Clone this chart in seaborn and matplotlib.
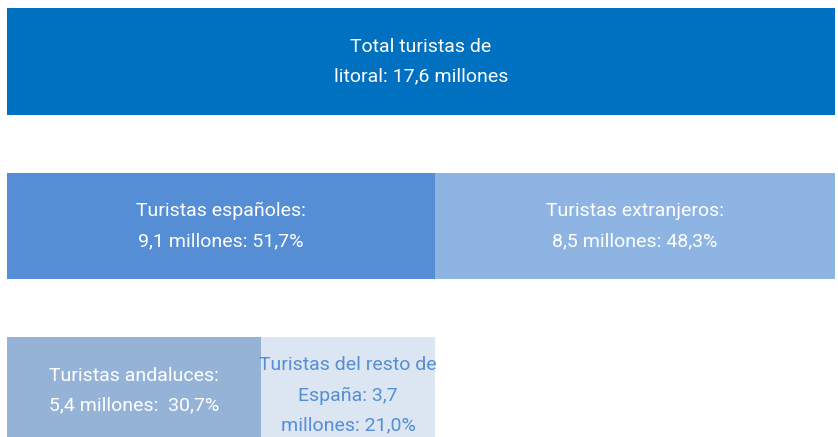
import matplotlib
matplotlib.use("Agg")
import matplotlib.pyplot as plt
import seaborn as sns
import pandas as pd

# Data (millions)
rows = ["total", "origen", "espanoles"]
total = 17.6
espanoles = 9.1
extranjeros = 8.5
andaluces = 5.4
resto = 3.7

labels_total = "Total turistas de\nlitoral: 17,6 millones"
label_esp = "Turistas españoles:\n9,1 millones: 51,7%"
label_ext = "Turistas extranjeros:\n8,5 millones: 48,3%"
label_and = "Turistas andaluces:\n5,4 millones:  30,7%"
label_res = "Turistas del resto de\nEspaña: 3,7\nmillones: 21,0%"

sns.set_theme(style="white")
plt.rcParams["font.family"] = ["Roboto", "DejaVu Sans"]

back = pd.DataFrame({"row": rows,
                     "value": [total, espanoles + extranjeros, andaluces + resto]})
front = pd.DataFrame({"row": rows[1:],
                      "value": [espanoles, andaluces]})

back_colors = ["#0070C0", "#8EB4E3", "#DCE6F2"]
front_colors = ["#558ED5", "#95B3D7"]

fig = plt.figure(figsize=(8.38, 4.37), dpi=100)
ax = fig.add_axes([0, 0, 1, 1])

sns.barplot(data=back, x="value", y="row", hue="row", palette=back_colors,
            orient="h", width=0.645, dodge=False, legend=False, ax=ax,
            saturation=1, linewidth=0)
sns.barplot(data=front, x="value", y="row", hue="row", palette=front_colors,
            orient="h", width=0.645, dodge=False, legend=False, ax=ax,
            saturation=1, linewidth=0, order=rows, hue_order=rows[1:])

fs = 14
kw = dict(ha="center", va="center", fontsize=fs, linespacing=1.85)
ax.text(total / 2, 0, labels_total, color="white", **kw)
ax.text(espanoles / 2, 1, label_esp, color="white", **kw)
ax.text(espanoles + extranjeros / 2, 1, label_ext, color="white", **kw)
ax.text(andaluces / 2, 2, label_and, color="white", **kw)
ax.text(andaluces + resto / 2, 2.03, label_res, color="#558ED5", **kw)

px = total / 828
ax.set_xlim(-7 * px, total + 3 * px)
ax.set_ylim(2 + 46.5 / 164.5, -61.5 / 164.5)
ax.axis("off")

fig.savefig("out.png", dpi=100, facecolor="white")
